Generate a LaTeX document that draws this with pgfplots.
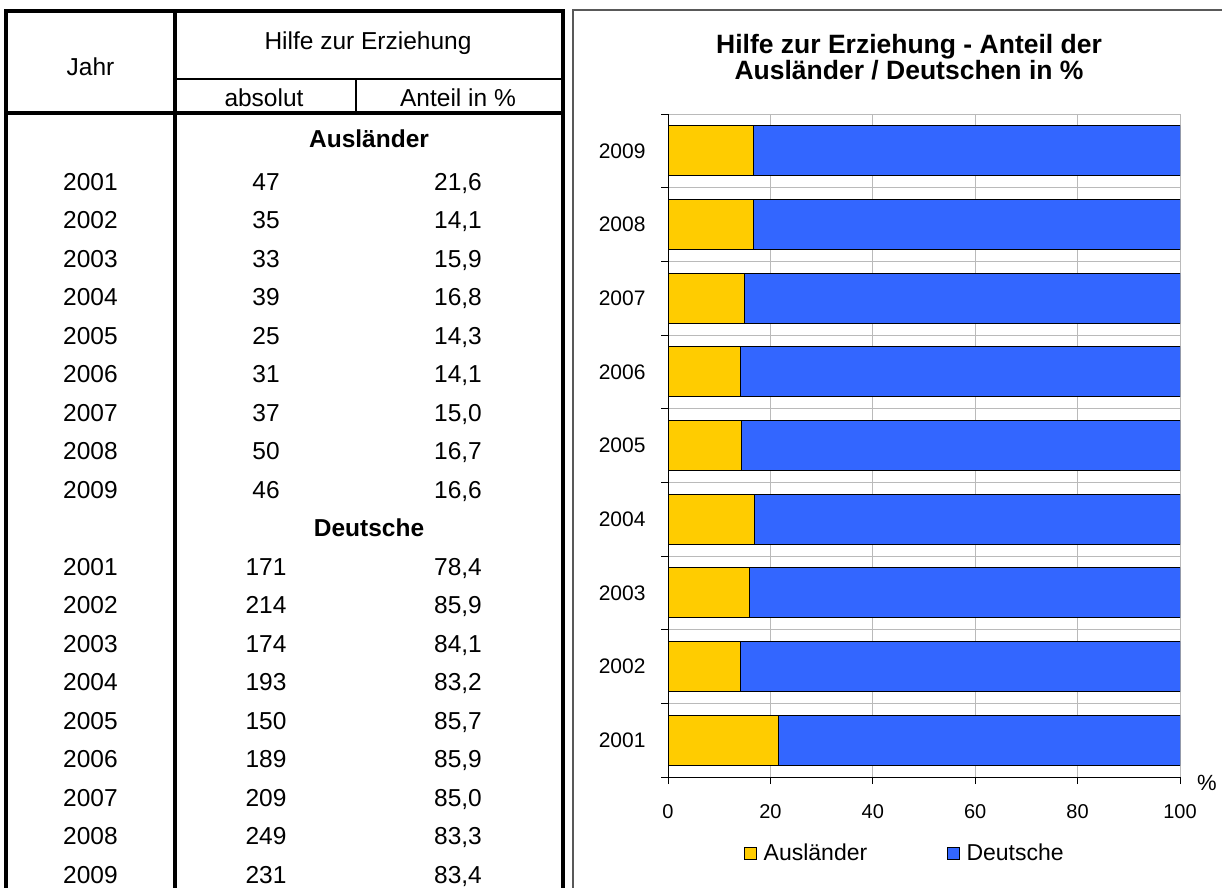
\documentclass[border=0pt]{standalone}
\usepackage{fontspec}
\setmainfont{Liberation Sans}
\usepackage{pgfplots}
\pgfplotsset{compat=1.18}
\definecolor{ayellow}{RGB}{255,204,0}
\definecolor{dblue}{RGB}{51,102,255}
\pgfplotsset{sqlegend/.style={legend image code/.code={\draw[##1, line width=0.8pt] (0pt,-6pt) rectangle (11.5pt,6pt);}}}
\begin{document}
\begin{tikzpicture}
\begin{scope}[x=1pt,y=-1pt]
% table rules
\draw[line width=4pt] (6,9) -- (6,900);
\draw[line width=4pt] (4,11) -- (565,11);
\draw[line width=4pt] (175,11) -- (175,900);
\draw[line width=4pt] (563,9) -- (563,900);
\draw[line width=4pt] (4,113) -- (565,113);
\draw[line width=1.3pt] (175,79) -- (563,79);
\draw[line width=1.3pt] (356,79) -- (356,113);
% chart frame
\draw[line width=1.3pt, black!65] (1240,10) -- (573,10) -- (573,900);
% table header
\begin{scope}[every node/.style={font=\fontsize{24.5}{29}\selectfont, anchor=base, inner sep=0pt}]
\node at (90.5,75) {Jahr};
\node at (368,49) {Hilfe zur Erziehung};
\node at (264,106) {absolut};
\node at (458,106) {Anteil in \%};
\node[font=\fontsize{24.5}{29}\selectfont\bfseries] at (369,147) {Ausländer};
\node[font=\fontsize{24.5}{29}\selectfont\bfseries] at (369,536.5) {Deutsche};
\foreach \yr/\ab/\an [count=\i from 0] in {2001/47/21.6, 2002/35/14.1, 2003/33/15.9, 2004/39/16.8, 2005/25/14.3, 2006/31/14.1, 2007/37/15.0, 2008/50/16.7, 2009/46/16.6}{
  \pgfmathsetmacro\yy{190+38.5*\i}
  \node at (90.5,\yy) {\yr};
  \node at (266,\yy) {\ab};
  \node at (458,\yy) {\pgfmathprintnumber[fixed,fixed zerofill,precision=1,use comma,assume math mode=true]{\an}};
}
\foreach \yr/\ab/\an [count=\i from 10] in {2001/171/78.4, 2002/214/85.9, 2003/174/84.1, 2004/193/83.2, 2005/150/85.7, 2006/189/85.9, 2007/209/85.0, 2008/249/83.3, 2009/231/83.4}{
  \pgfmathsetmacro\yy{190+38.5*\i}
  \node at (90.5,\yy) {\yr};
  \node at (266,\yy) {\ab};
  \node at (458,\yy) {\pgfmathprintnumber[fixed,fixed zerofill,precision=1,use comma,assume math mode=true]{\an}};
}
\end{scope}
% chart title
\node[anchor=base, inner sep=0pt, font=\fontsize{26.5}{30}\selectfont\bfseries] at (909,53) {Hilfe zur Erziehung - Anteil der};
\node[anchor=base, inner sep=0pt, font=\fontsize{26.5}{30}\selectfont\bfseries] at (909,79) {Ausländer / Deutschen in \%};
\node[anchor=base, inner sep=0pt, font=\fontsize{22}{26}\selectfont] at (1207,790) {\%};
\end{scope}
\begin{axis}[
  at={(668pt,-777pt)}, anchor=south west,
  scale only axis, width=512pt, height=663pt,
  xbar stacked, bar width=0.68,
  xmin=0, xmax=100, ymin=-0.5, ymax=8.5,
  axis x line*=bottom, axis y line*=left,
  axis line style={line width=1pt, black},
  xtick={0,20,40,60,80,100},
  ytick={-0.5,0.5,1.5,2.5,3.5,4.5,5.5,6.5,7.5,8.5},
  yticklabels={,,},
  extra y ticks={0,1,2,3,4,5,6,7,8},
  extra y tick labels={2001,2002,2003,2004,2005,2006,2007,2008,2009},
  extra y tick style={major tick length=0pt, grid=none, yticklabel style={xshift=-19pt, font=\fontsize{21}{25}\selectfont}},
  xmajorgrids=true, ymajorgrids=true,
  grid style={line width=1pt, draw=black!27},
  tick align=outside,
  major tick length=7pt,
  tick style={line width=1pt, black},
  tick label style={font=\fontsize{20}{24}\selectfont},
  xticklabel style={yshift=-17pt},
  /pgf/number format/assume math mode=true,
  legend columns=2,
  legend style={at={(0.463,-0.1146)}, anchor=center, draw=none, fill=none,
    font=\fontsize{23}{27}\selectfont,
    /tikz/every odd column/.append style={column sep=5pt},
    /tikz/every even column/.append style={column sep=78pt}},
]
\addplot[fill=ayellow, draw=black, line width=0.8pt, sqlegend]
  coordinates {(21.6,0) (14.1,1) (15.9,2) (16.8,3) (14.3,4) (14.1,5) (15.0,6) (16.7,7) (16.6,8)};
\addplot[fill=dblue, draw=black, line width=0.8pt, sqlegend]
  coordinates {(78.4,0) (85.9,1) (84.1,2) (83.2,3) (85.7,4) (85.9,5) (85.0,6) (83.3,7) (83.4,8)};
\legend{Ausländer, Deutsche}
\end{axis}
\pgfresetboundingbox
\useasboundingbox (0pt,0pt) rectangle (1222pt,-887pt);
\end{tikzpicture}
\end{document}
